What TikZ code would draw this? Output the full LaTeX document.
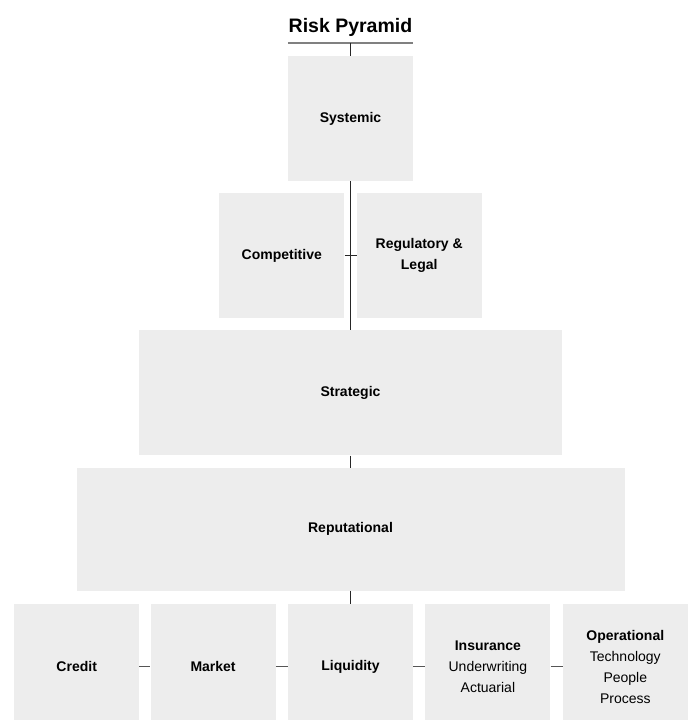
\documentclass[tikz,border=0pt]{standalone}
\usepackage{fontspec}
\setmainfont{Liberation Sans}
\usetikzlibrary{positioning}

\definecolor{boxgray}{HTML}{EDEDED}
\definecolor{linegray}{HTML}{555555}

\tikzset{
    riskbox/.style={fill=boxgray, minimum width=125pt, minimum height=125pt,
        inner sep=0pt, align=center, font=\fontsize{14}{21}\selectfont},
    link/.style={draw=black!85, line width=0.8pt},
    sidelink/.style={draw=linegray, line width=0.8pt},
}

\begin{document}
\begin{tikzpicture}[x=1pt, y=1pt]
    \useasboundingbox (0,0) rectangle (690,720);

    \node[riskbox] (systemic) at (350.5,601.5) {\textbf{Systemic}};
    \node[above=13pt of systemic, minimum width=125pt, inner xsep=0pt, inner ysep=6pt,
        font=\fontsize{19.5}{22}\selectfont\bfseries] (title) {Risk Pyramid};
    \node[riskbox, below left=12pt and 6pt of systemic.south] (competitive) {\textbf{Competitive}};
    \node[riskbox, below right=12pt and 6pt of systemic.south] (regulatory) {\textbf{Regulatory \&}\\\textbf{Legal}};
    \node[riskbox, below=149pt of systemic, minimum width=423pt] (strategic) {\textbf{Strategic}};
    \node[riskbox, below=12pt of strategic, minimum width=548pt, minimum height=123pt] (reputational) {\textbf{Reputational}};
    \node[riskbox, below=13pt of reputational] (liquidity) {\textbf{Liquidity}};
    \node[riskbox, left=12pt of liquidity] (market) {\textbf{Market}};
    \node[riskbox, left=11pt of market] (credit) {\textbf{Credit}};
    \node[riskbox, right=12pt of liquidity] (insurance) {\textbf{Insurance}\\Underwriting\\Actuarial};
    \node[riskbox, right=12pt of insurance] (operational) {\textbf{Operational}\\Technology\\People\\Process};

    % title rule
    \draw[draw=black!50, line width=2pt] (title.south west) -- (title.south east);

    \draw[link] (title.south) -- (systemic.north);
    \draw[link] (systemic.south) -- (strategic.north);
    \draw[link] (competitive.east) -- (regulatory.west);
    \draw[link] (strategic.south) -- (reputational.north);
    \draw[link] (reputational.south) -- (liquidity.north);

    \draw[sidelink] (credit.east) -- (market.west);
    \draw[sidelink] (market.east) -- (liquidity.west);
    \draw[sidelink] (liquidity.east) -- (insurance.west);
    \draw[sidelink] (insurance.east) -- (operational.west);
\end{tikzpicture}
\end{document}
